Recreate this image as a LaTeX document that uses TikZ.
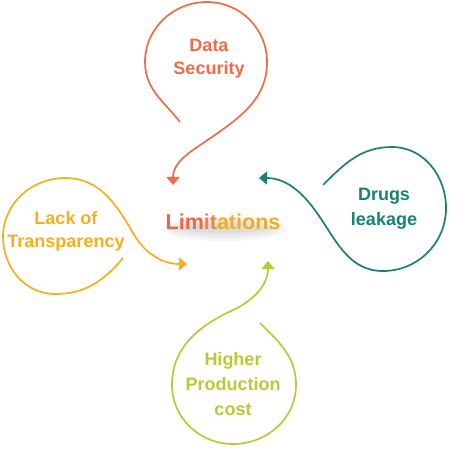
\documentclass[tikz,border=0pt]{standalone}
\usepackage{fontspec}
\setmainfont{Liberation Sans}
\usetikzlibrary{arrows.meta}
\definecolor{cDS}{HTML}{EF6C48}
\definecolor{cLT}{HTML}{F5B01E}
\definecolor{cDL}{HTML}{17836F}
\definecolor{cHP}{HTML}{BCC936}
\definecolor{cL1}{HTML}{EE6847}
\definecolor{cL2}{HTML}{F1853A}
\definecolor{cL3}{HTML}{F5AC22}
\tikzset{
  loopline/.style={line width=1.7pt, -{Triangle[width=13pt,length=8pt]}},
  lbl/.style={font=\bfseries\fontsize{18}{23}\selectfont, align=center, inner sep=0pt},
  glow/.style={fill=black, opacity=0.035, draw=none},
}
\begin{document}
\begin{tikzpicture}[x=1pt,y=1pt]
\useasboundingbox (0,0) rectangle (462,455);
% soft shadow under the title
\fill[glow] (224,226) ellipse (62 and 12);
\fill[glow] (224,226) ellipse (56 and 9);
\fill[glow] (224,227) ellipse (50 and 7);
\fill[glow] (224,227) ellipse (44 and 5);
% Data Security
\coordinate (ds0) at (180,333);
\coordinate (dsL) at (145,393);
\coordinate (dsT) at (207,453);
\coordinate (dsR) at (267,393);
\coordinate (dsM) at (212,318);
\coordinate (dsTip) at (173,270);
\draw[cDS, loopline] (ds0) to[out=128,in=-90] (dsL) to[out=90,in=180] (dsT)
  to[out=0,in=90] (dsR) to[out=-90,in=35] (dsM) to[out=215,in=90] (dsTip);
\node[lbl, text=cDS] (ds) at (209,396) {Data\\Security};
% Lack of Transparency
\coordinate (lt0) at (123,197);
\coordinate (ltB) at (55,161);
\coordinate (ltL) at (3,218);
\coordinate (ltT) at (65,277);
\coordinate (ltM) at (133,222);
\coordinate (ltTip) at (187,191);
\draw[cLT, loopline] (lt0) to[out=-130,in=0] (ltB) to[out=180,in=-90] (ltL)
  to[out=90,in=180] (ltT) to[out=0,in=120] (ltM) to[out=-60,in=180] (ltTip);
\node[lbl, text=cLT] (lt) at (66,224) {Lack of\\Transparency};
% Drugs leakage
\coordinate (dl0) at (323,270);
\coordinate (dlT) at (392,308);
\coordinate (dlR) at (446,247);
\coordinate (dlB) at (383,184);
\coordinate (dlM) at (317,242);
\coordinate (dlTip) at (259,277);
\draw[cDL, loopline] (dl0) to[out=45,in=180] (dlT) to[out=0,in=90] (dlR)
  to[out=-90,in=0] (dlB) to[out=180,in=-55] (dlM) to[out=125,in=0] (dlTip);
\node[lbl, text=cDL, font=\bfseries\fontsize{18}{25}\selectfont] (dl) at (384,246) {Drugs\\leakage};
% Higher Production cost
\coordinate (hp0) at (260,132);
\coordinate (hpR) at (296,70);
\coordinate (hpB) at (233,11);
\coordinate (hpL) at (172,70);
\coordinate (hpM) at (233,145);
\coordinate (hpTip) at (268,194);
\draw[cHP, loopline] (hp0) to[out=-45,in=90] (hpR) to[out=-90,in=0] (hpB)
  to[out=180,in=-90] (hpL) to[out=90,in=205] (hpM) to[out=25,in=-90] (hpTip);
\node[lbl, text=cHP, font=\bfseries\fontsize{18}{25}\selectfont] (hp) at (233,71) {Higher\\Production\\cost};
% Limitations
\node[inner sep=0pt, font=\bfseries\fontsize{21.5}{24}\selectfont] (lim) at (223,233)
  {\textcolor{cL1}{Lim}\textcolor{cL2}{it}\textcolor{cL3}{ations}};
\end{tikzpicture}
\end{document}
